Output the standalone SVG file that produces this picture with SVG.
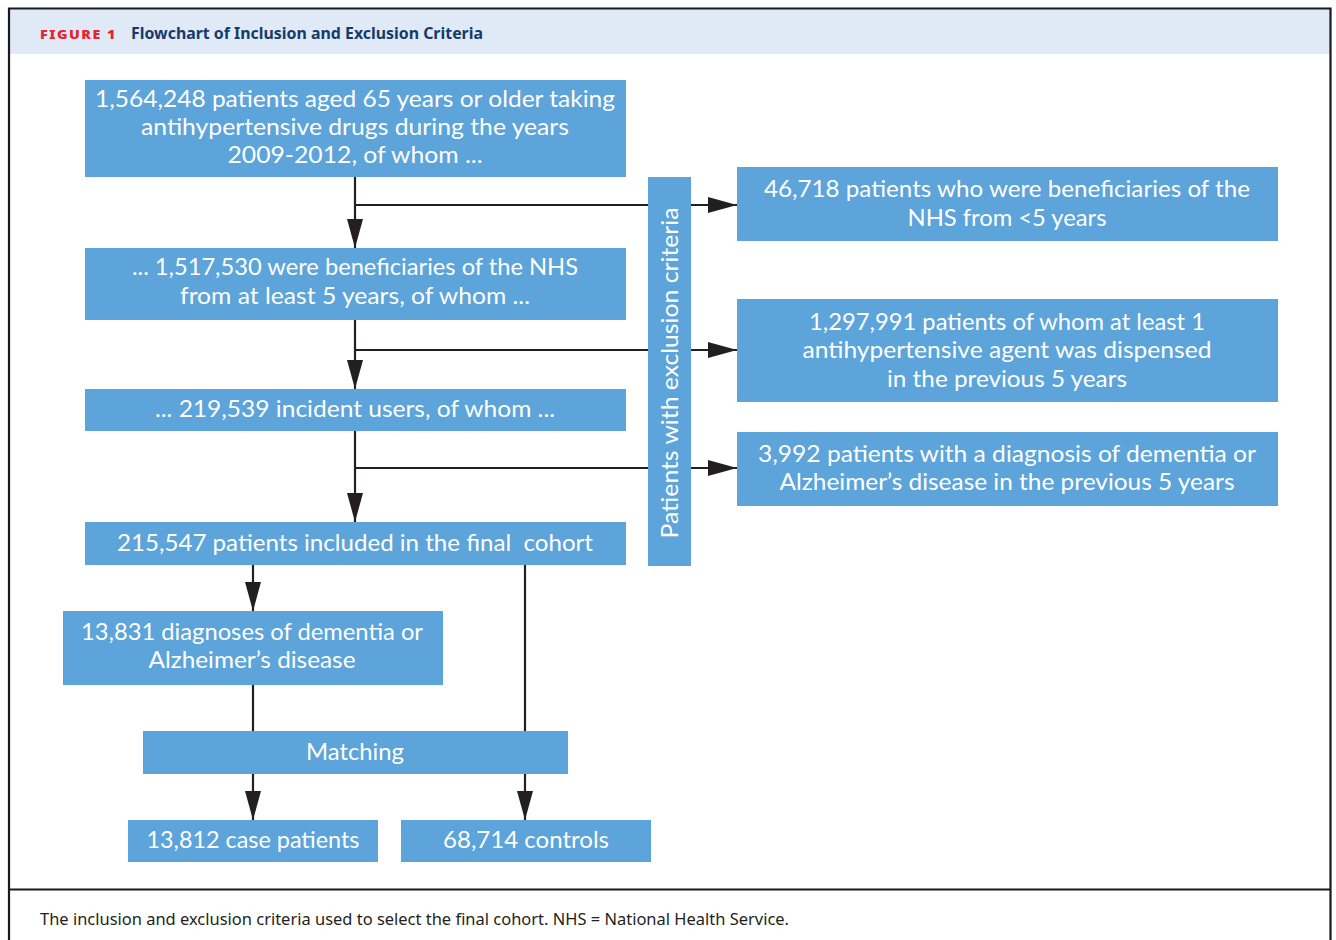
<svg xmlns="http://www.w3.org/2000/svg" width="1336" height="940" viewBox="0 0 1336 940">
<style>
.box{fill:#5ca4da}
.t{font-family:Lato,"Noto Sans",sans-serif;font-size:23px;fill:#ffffff;text-anchor:middle}
.c{stroke:#231f20;stroke-width:2.2;fill:none}
.ah{fill:#231f20}
</style>
<defs>
<marker id="arr" markerUnits="userSpaceOnUse" markerWidth="30" markerHeight="16" refX="29" refY="8" orient="auto">
<path class="ah" d="M0,0 L29,8 L0,16 Z"/>
</marker>
</defs>
<rect x="0" y="0" width="1336" height="940" fill="#ffffff"/>
<g id="frame">
<rect x="10" y="9" width="1320" height="45" fill="#dfeaf6"/>
<path d="M9,950 V8.5 H1330.5 V950" stroke="#1a1a1a" stroke-width="2.2" fill="none"/>
<line x1="9" y1="889.5" x2="1330.5" y2="889.5" stroke="#1a1a1a" stroke-width="2.2"/>
<text x="40" y="39" font-family="'Noto Sans',Lato,sans-serif" font-weight="900" font-size="13px" letter-spacing="1.4" fill="#e2272e" textLength="77" lengthAdjust="spacingAndGlyphs">FIGURE 1</text>
<text x="131" y="39" font-family="'Noto Sans',Lato,sans-serif" font-weight="bold" font-size="16.5px" fill="#163a6a" textLength="352" lengthAdjust="spacingAndGlyphs">Flowchart of Inclusion and Exclusion Criteria</text>
<text x="40" y="925" font-family="'Noto Sans',Lato,sans-serif" font-size="16.5px" fill="#231f20" textLength="749" lengthAdjust="spacingAndGlyphs">The inclusion and exclusion criteria used to select the final cohort. NHS = National Health Service.</text>
</g>
<g id="connectors">
<line class="c" x1="355" y1="177" x2="355" y2="248" marker-end="url(#arr)"/>
<line class="c" x1="355" y1="205" x2="737" y2="205" marker-end="url(#arr)"/>
<line class="c" x1="355" y1="320" x2="355" y2="389" marker-end="url(#arr)"/>
<line class="c" x1="355" y1="350" x2="737" y2="350" marker-end="url(#arr)"/>
<line class="c" x1="355" y1="431" x2="355" y2="522" marker-end="url(#arr)"/>
<line class="c" x1="355" y1="468" x2="737" y2="468" marker-end="url(#arr)"/>
<line class="c" x1="253" y1="565" x2="253" y2="611" marker-end="url(#arr)"/>
<line class="c" x1="253" y1="685" x2="253" y2="731"/>
<line class="c" x1="525" y1="565" x2="525" y2="731"/>
<line class="c" x1="253" y1="774" x2="253" y2="820" marker-end="url(#arr)"/>
<line class="c" x1="525" y1="774" x2="525" y2="820" marker-end="url(#arr)"/>
</g>
<g id="n1">
<rect class="box" x="85" y="80" width="541" height="97"/>
<text class="t" x="355" y="107" textLength="520" lengthAdjust="spacingAndGlyphs">1,564,248 patients aged 65 years or older taking</text>
<text class="t" x="355" y="135" textLength="428" lengthAdjust="spacingAndGlyphs">antihypertensive drugs during the years</text>
<text class="t" x="355" y="163" textLength="255" lengthAdjust="spacingAndGlyphs">2009-2012, of whom ...</text>
</g>
<g id="n2">
<rect class="box" x="85" y="248" width="541" height="72"/>
<text class="t" x="355" y="275" textLength="446" lengthAdjust="spacingAndGlyphs">... 1,517,530 were beneficiaries of the NHS</text>
<text class="t" x="355" y="304" textLength="350" lengthAdjust="spacingAndGlyphs">from at least 5 years, of whom ...</text>
</g>
<g id="n3">
<rect class="box" x="85" y="389" width="541" height="42"/>
<text class="t" x="355" y="417" textLength="400" lengthAdjust="spacingAndGlyphs">... 219,539 incident users, of whom ...</text>
</g>
<g id="n4">
<rect class="box" x="85" y="522" width="541" height="43"/>
<text class="t" x="355" y="551" textLength="476" lengthAdjust="spacingAndGlyphs">215,547 patients included in the final&#160; cohort</text>
</g>
<g id="n5">
<rect class="box" x="63" y="611" width="380" height="74"/>
<text class="t" x="252" y="640" textLength="342" lengthAdjust="spacingAndGlyphs">13,831 diagnoses of dementia or</text>
<text class="t" x="252" y="668" textLength="207" lengthAdjust="spacingAndGlyphs">Alzheimer’s disease</text>
</g>
<g id="n6">
<rect class="box" x="143" y="731" width="425" height="43"/>
<text class="t" x="355" y="760" textLength="98" lengthAdjust="spacingAndGlyphs">Matching</text>
</g>
<g id="n7">
<rect class="box" x="128" y="820" width="250" height="42"/>
<text class="t" x="253" y="848" textLength="213" lengthAdjust="spacingAndGlyphs">13,812 case patients</text>
</g>
<g id="n8">
<rect class="box" x="401" y="820" width="250" height="42"/>
<text class="t" x="526" y="848" textLength="166" lengthAdjust="spacingAndGlyphs">68,714 controls</text>
</g>
<g id="n9">
<rect class="box" x="648" y="177" width="43" height="389"/>
<text class="t" transform="translate(678,373) rotate(-90)" x="0" y="0" textLength="331" lengthAdjust="spacingAndGlyphs">Patients with exclusion criteria</text>
</g>
<g id="n10">
<rect class="box" x="737" y="167" width="541" height="74"/>
<text class="t" x="1007" y="197" textLength="486" lengthAdjust="spacingAndGlyphs">46,718 patients who were beneficiaries of the</text>
<text class="t" x="1007" y="226" textLength="199" lengthAdjust="spacingAndGlyphs">NHS from &lt;5 years</text>
</g>
<g id="n11">
<rect class="box" x="737" y="299" width="541" height="103"/>
<text class="t" x="1007" y="330" textLength="396" lengthAdjust="spacingAndGlyphs">1,297,991 patients of whom at least 1</text>
<text class="t" x="1007" y="358" textLength="409" lengthAdjust="spacingAndGlyphs">antihypertensive agent was dispensed</text>
<text class="t" x="1007" y="387" textLength="240" lengthAdjust="spacingAndGlyphs">in the previous 5 years</text>
</g>
<g id="n12">
<rect class="box" x="737" y="432" width="541" height="74"/>
<text class="t" x="1007" y="462" textLength="498" lengthAdjust="spacingAndGlyphs">3,992 patients with a diagnosis of dementia or</text>
<text class="t" x="1007" y="490" textLength="455" lengthAdjust="spacingAndGlyphs">Alzheimer’s disease in the previous 5 years</text>
</g>
</svg>
